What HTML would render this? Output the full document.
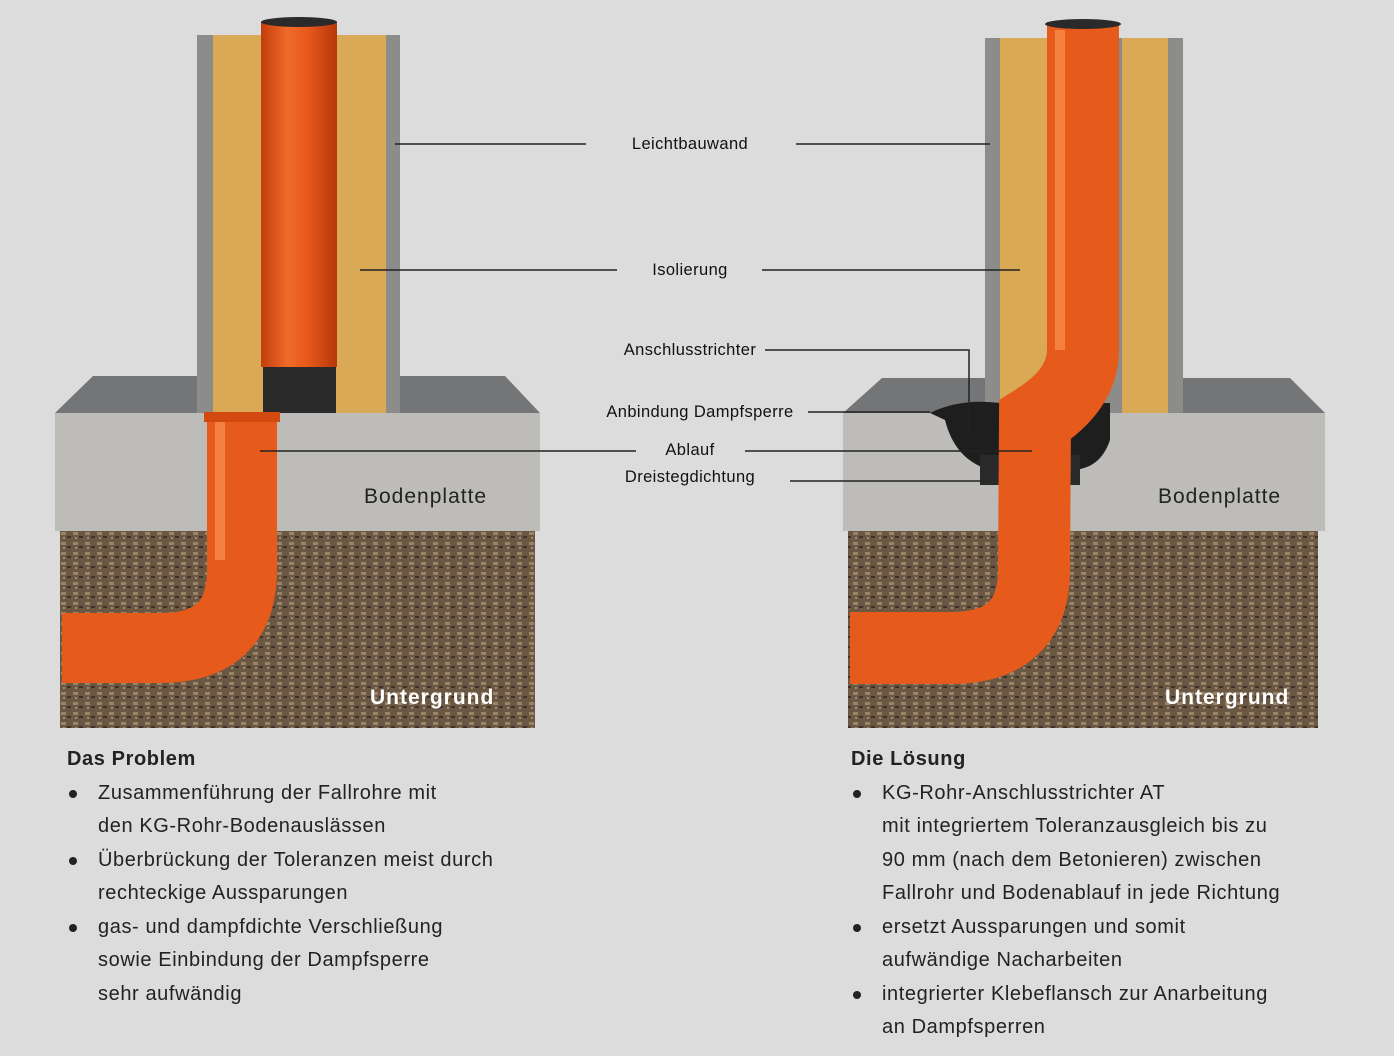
<!DOCTYPE html>
<html><head><meta charset="utf-8"><style>
body{margin:0;width:1394px;height:1056px;background:#dcdcdc;font-family:"Liberation Sans",sans-serif;overflow:hidden;position:relative}
.t{position:absolute;font-size:20px;color:#222;line-height:33.5px;letter-spacing:0.6px}
.t b{font-size:20px}
.t ul{margin:0;padding:0;list-style:none}
.t li{position:relative;padding-left:31px}
.t li:before{content:"";position:absolute;left:2px;top:13px;width:8px;height:8px;border-radius:50%;background:#222}
</style></head><body>
<svg width="1394" height="1056" style="position:absolute;left:0;top:0">
<defs>
<pattern id="soil" width="12" height="10" patternUnits="userSpaceOnUse">
<rect width="12" height="10" fill="#6a5744"/><rect x="1" y="2" width="5" height="3" fill="#9a8366"/><rect x="7" y="6" width="4" height="2" fill="#3f3329"/><rect x="3" y="7" width="2" height="2" fill="#a38e72"/>
</pattern>
<linearGradient id="pipeV" x1="0" x2="1"><stop offset="0" stop-color="#c33d0c"/><stop offset="0.35" stop-color="#f06a2a"/><stop offset="0.6" stop-color="#e85a1c"/><stop offset="1" stop-color="#b8370a"/></linearGradient>
</defs>
<g>
<polygon points="55,413 93,376 505,376 540,413" fill="#737576"/>
<rect x="55" y="413" width="485" height="118" fill="#bdbcb9"/>
<rect x="60" y="531" width="475" height="197" fill="url(#soil)"/>
<rect x="197" y="35" width="203" height="378" fill="#8c8c8a"/>
<rect x="213" y="35" width="50" height="378" fill="#d9a956"/>
<rect x="336" y="35" width="50" height="378" fill="#d9a956"/>
<rect x="263" y="35" width="73" height="378" fill="#2a2a2a"/>
<rect x="261" y="22" width="76" height="345" fill="url(#pipeV)"/>
<ellipse cx="299" cy="22" rx="38" ry="5" fill="#2a2a2a"/>
<path d="M242,413 L242,570 Q242,648 160,648 L62,648" fill="none" stroke="#e65a1c" stroke-width="70"/>
<path d="M220,413 L220,560" stroke="#f58040" stroke-width="10"/>
<rect x="204" y="412" width="76" height="10" fill="#d24a10"/>
</g>
<g>
<polygon points="843,413 882,378 1290,378 1325,413" fill="#737576"/>
<rect x="843" y="413" width="482" height="118" fill="#bdbcb9"/>
<rect x="848" y="531" width="470" height="197" fill="url(#soil)"/>
<rect x="985" y="38" width="198" height="375" fill="#8c8c8a"/>
<rect x="1000" y="38" width="48" height="375" fill="#d9a956"/>
<rect x="1122" y="38" width="46" height="375" fill="#d9a956"/>
<path d="M930,413 Q960,398 1000,403 L1110,403 L1110,440 Q1100,470 1070,470 L990,470 Q955,460 945,420 Z" fill="#1e1e1e"/>
<rect x="980" y="455" width="100" height="30" fill="#2a2a2a"/>
<path d="M1083,22 L1083,350 Q1083,390 1035,420 L1034,570 Q1034,648 950,648 L850,648" fill="none" stroke="#e65a1c" stroke-width="72"/>
<path d="M1060,30 L1060,350" stroke="#f58040" stroke-width="10"/>
<ellipse cx="1083" cy="24" rx="38" ry="5" fill="#2a2a2a"/>
</g>
<g stroke="#222" stroke-width="1.5" fill="none">
<line x1="395" y1="144" x2="586" y2="144"/><line x1="796" y1="144" x2="990" y2="144"/>
<line x1="360" y1="270" x2="617" y2="270"/><line x1="762" y1="270" x2="1020" y2="270"/>
<polyline points="765,350 969,350 969,430"/>
<line x1="808" y1="412" x2="930" y2="412"/>
<line x1="260" y1="451" x2="636" y2="451"/><line x1="745" y1="451" x2="1032" y2="451"/>
<line x1="790" y1="481" x2="982" y2="481"/>
</g>
<g font-family="Liberation Sans,sans-serif" font-size="16.5" fill="#111" text-anchor="middle" letter-spacing="0.4">
<text x="690" y="149">Leichtbauwand</text>
<text x="690" y="275">Isolierung</text>
<text x="690" y="355">Anschlusstrichter</text>
<text x="700" y="417">Anbindung Dampfsperre</text>
<text x="690" y="455">Ablauf</text>
<text x="690" y="482">Dreistegdichtung</text>
</g>
<g font-family="Liberation Sans,sans-serif" font-size="21" letter-spacing="1">
<text x="364" y="503" fill="#222">Bodenplatte</text>
<text x="1158" y="503" fill="#222">Bodenplatte</text>
<text x="370" y="704" fill="#fff" font-weight="bold">Untergrund</text>
<text x="1165" y="704" fill="#fff" font-weight="bold">Untergrund</text>
</g>
</svg>
<div class="t" style="left:67px;top:743px"><b>Das Problem</b>
<ul><li>Zusammenführung der Fallrohre mit<br>den KG-Rohr-Bodenauslässen</li>
<li>Überbrückung der Toleranzen meist durch<br>rechteckige Aussparungen</li>
<li>gas- und dampfdichte Verschließung<br>sowie Einbindung der Dampfsperre<br>sehr aufwändig</li></ul></div>
<div class="t" style="left:851px;top:743px"><b>Die Lösung</b>
<ul><li>KG-Rohr-Anschlusstrichter AT<br>mit integriertem Toleranzausgleich bis zu<br>90 mm (nach dem Betonieren) zwischen<br>Fallrohr und Bodenablauf in jede Richtung</li>
<li>ersetzt Aussparungen und somit<br>aufwändige Nacharbeiten</li>
<li>integrierter Klebeflansch zur Anarbeitung<br>an Dampfsperren</li></ul></div>
</body></html>
